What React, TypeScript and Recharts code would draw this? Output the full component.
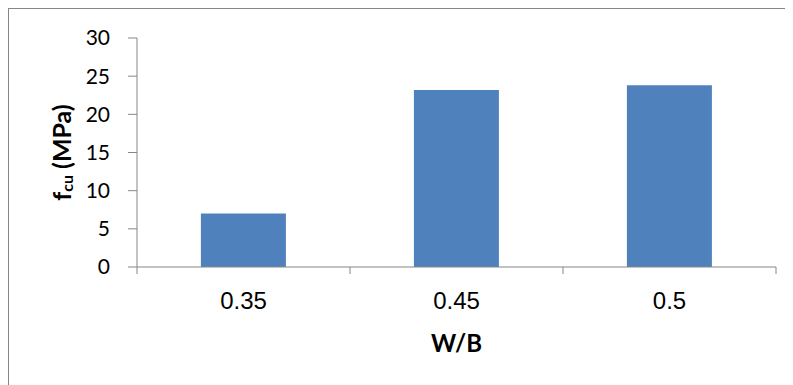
import React from "react";
import { BarChart, Bar, XAxis, YAxis, Label } from "recharts";

// compressive strength by water/binder ratio
const ratios = ["0.35", "0.45", "0.5"];
const strength = [7.0, 23.2, 23.8];
const yTicks = [0, 5, 10, 15, 20, 25, 30];

const data = ratios.map((r, i) => ({ ratio: r, fcu: strength[i] }));

const CHART_W = 784;
const CHART_H = 376;
const MARGIN = { top: 29, right: 17, left: 38, bottom: 38 };
const Y_AXIS_W = 90;
const X_AXIS_H = 80;
const AXIS = "#868686";
const BAR = "#4f81bd";

const plotW = CHART_W - MARGIN.left - MARGIN.right - Y_AXIS_W;
const band = plotW / ratios.length;

const XTick = (props: any) => {
  const { x, y, payload, index } = props;
  const half = band / 2;
  return (
    <g>
      <line x1={x - half} y1={y} x2={x - half} y2={y + 7} stroke={AXIS} />
      {index === ratios.length - 1 && (
        <line x1={x + half} y1={y} x2={x + half} y2={y + 7} stroke={AXIS} />
      )}
      <text
        x={x}
        y={y + 33}
        textAnchor="middle"
        dominantBaseline="central"
        fontFamily="'Liberation Sans', Arial, sans-serif"
        fontSize={24}
        fill="#000"
      >
        {payload.value}
      </text>
    </g>
  );
};

const YTitle = (props: any) => {
  const { viewBox } = props;
  const cx = viewBox.x + 14;
  const cy = viewBox.y + viewBox.height / 2;
  return (
    <text
      x={cx}
      y={cy}
      transform={`rotate(-90, ${cx}, ${cy})`}
      textAnchor="middle"
      dominantBaseline="central"
      fontFamily="Lato, sans-serif"
      fontWeight={700}
      fontSize={25}
      fill="#000"
    >
      f
      <tspan dy={5} fontSize={16}>
        cu
      </tspan>
      <tspan dy={-5}> (MPa)</tspan>
    </text>
  );
};

export default function App() {
  return (
    <div
      style={{
        width: CHART_W,
        height: CHART_H,
        borderTop: `1px solid ${AXIS}`,
        borderLeft: `1px solid ${AXIS}`,
        background: "#fff",
      }}
    >
      <BarChart
        width={CHART_W}
        height={CHART_H}
        data={data}
        margin={MARGIN}
        barCategoryGap="30%"
      >
        <XAxis
          dataKey="ratio"
          height={X_AXIS_H}
          stroke={AXIS}
          tickLine={false}
          tickSize={0}
          tickMargin={0}
          tick={<XTick />}
          interval={0}
        >
          <Label
            value="W/B"
            position="bottom"
            offset={-12}
            fontFamily="Lato, sans-serif"
            fontWeight={700}
            fontSize={24}
            fill="#000"
          />
        </XAxis>
        <YAxis
          width={Y_AXIS_W}
          domain={[0, 30]}
          ticks={yTicks}
          interval={0}
          stroke={AXIS}
          tickSize={9}
          tickMargin={18}
          tick={{ fontFamily: "Lato, sans-serif", fontSize: 21, fill: "#000" }}
        >
          <Label content={<YTitle />} />
        </YAxis>
        <Bar dataKey="fcu" fill={BAR} isAnimationActive={false} />
      </BarChart>
    </div>
  );
}
